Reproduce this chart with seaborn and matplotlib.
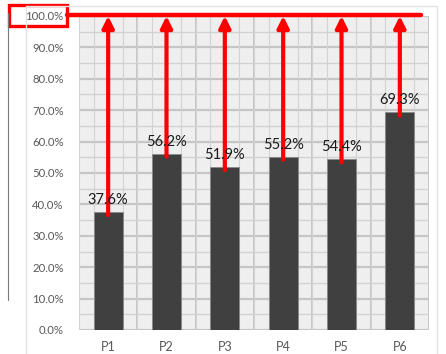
import numpy as np
import matplotlib
matplotlib.use("Agg")
import matplotlib.pyplot as plt
import seaborn as sns
from matplotlib.patches import Rectangle
from matplotlib.lines import Line2D

# dane
categories = ["P1", "P2", "P3", "P4", "P5", "P6"]
values = [37.6, 56.2, 51.9, 55.2, 54.4, 69.3]
target = 100.0

sns.set_style("white")
plt.rcParams['font.family'] = ['Lato', 'DejaVu Sans']

fig = plt.figure(figsize=(4.46, 3.54), dpi=100)
ax = fig.add_axes([79 / 446, 24 / 354, 350 / 446, 314 / 354])
ax.set_facecolor('#efefef')

sns.barplot(x=categories, y=values, color='#404040', saturation=1, width=0.5,
            edgecolor='#8a8a8a', linewidth=0.6, ax=ax, zorder=3)

# siatka jak w Excelu
ax.set_ylim(0, 100)
ax.set_xlim(-0.5, 5.5)
ax.set_yticks(np.arange(0, 101, 10))
ax.set_yticklabels([f"{t:.1f}%" for t in range(0, 101, 10)])
ax.set_yticks(np.arange(5, 100, 10), minor=True)
ax.set_xticks(np.arange(-0.5, 5.6, 1), minor=True)
for x in np.arange(-0.5, 5.5, 0.25):
    ax.axvline(x, color='#d2d2d2', lw=0.8, zorder=1)
ax.grid(True, which='major', axis='y', color='#c6c6c6', lw=1.6, zorder=1)
ax.grid(True, which='minor', axis='y', color='#d2d2d2', lw=1.0, zorder=1)
ax.grid(True, which='minor', axis='x', color='#c6c6c6', lw=1.4, zorder=1)
ax.set_axisbelow(True)
for s in ax.spines.values():
    s.set_visible(False)
ax.tick_params(axis='both', which='both', length=0, colors='#595959', labelsize=8.2)
ax.tick_params(axis='y', pad=11)
ax.tick_params(axis='x', pad=8, labelsize=9)
ax.set_xlabel("")
ax.set_ylabel("")

# strzałki do 100%
for i, v in enumerate(values):
    ax.annotate('', xy=(i, target), xytext=(i, v - 1.0),
                arrowprops=dict(arrowstyle='-|>', color='red', lw=3,
                                mutation_scale=17, shrinkA=0, shrinkB=0),
                zorder=4, annotation_clip=False)
    ax.text(i, v + 1.6, f"{v:.1f}%", ha='center', va='bottom',
            fontsize=10.5, color='#1a1a1a', zorder=5)

# linia 100% i ramka wokół etykiety
fig.add_artist(Line2D([67 / 446, 421 / 446], [1 - 14.5 / 354] * 2,
                      color='red', lw=3.2, transform=fig.transFigure))
fig.add_artist(Rectangle((9 / 446, 1 - 26 / 354), 58 / 446, 21 / 354,
                         fill=False, edgecolor='red', lw=2.4,
                         transform=fig.transFigure))

# obramowanie arkusza
fig.add_artist(Line2D([26 / 446, 26 / 446], [0, 1 - 6 / 354], color='#e3e3e3',
                      lw=1, transform=fig.transFigure))
fig.add_artist(Line2D([26 / 446, 437 / 446], [1 - 6 / 354] * 2, color='#e3e3e3',
                      lw=1, transform=fig.transFigure))
fig.add_artist(Line2D([437 / 446, 437 / 446], [0, 1 - 6 / 354], color='#e3e3e3',
                      lw=1, transform=fig.transFigure))
fig.add_artist(Line2D([8 / 446, 8 / 446], [1 - 300 / 354, 1 - 13 / 354],
                      color='#7a7a7a', lw=0.8, transform=fig.transFigure))

fig.savefig("out.png", dpi=100)
